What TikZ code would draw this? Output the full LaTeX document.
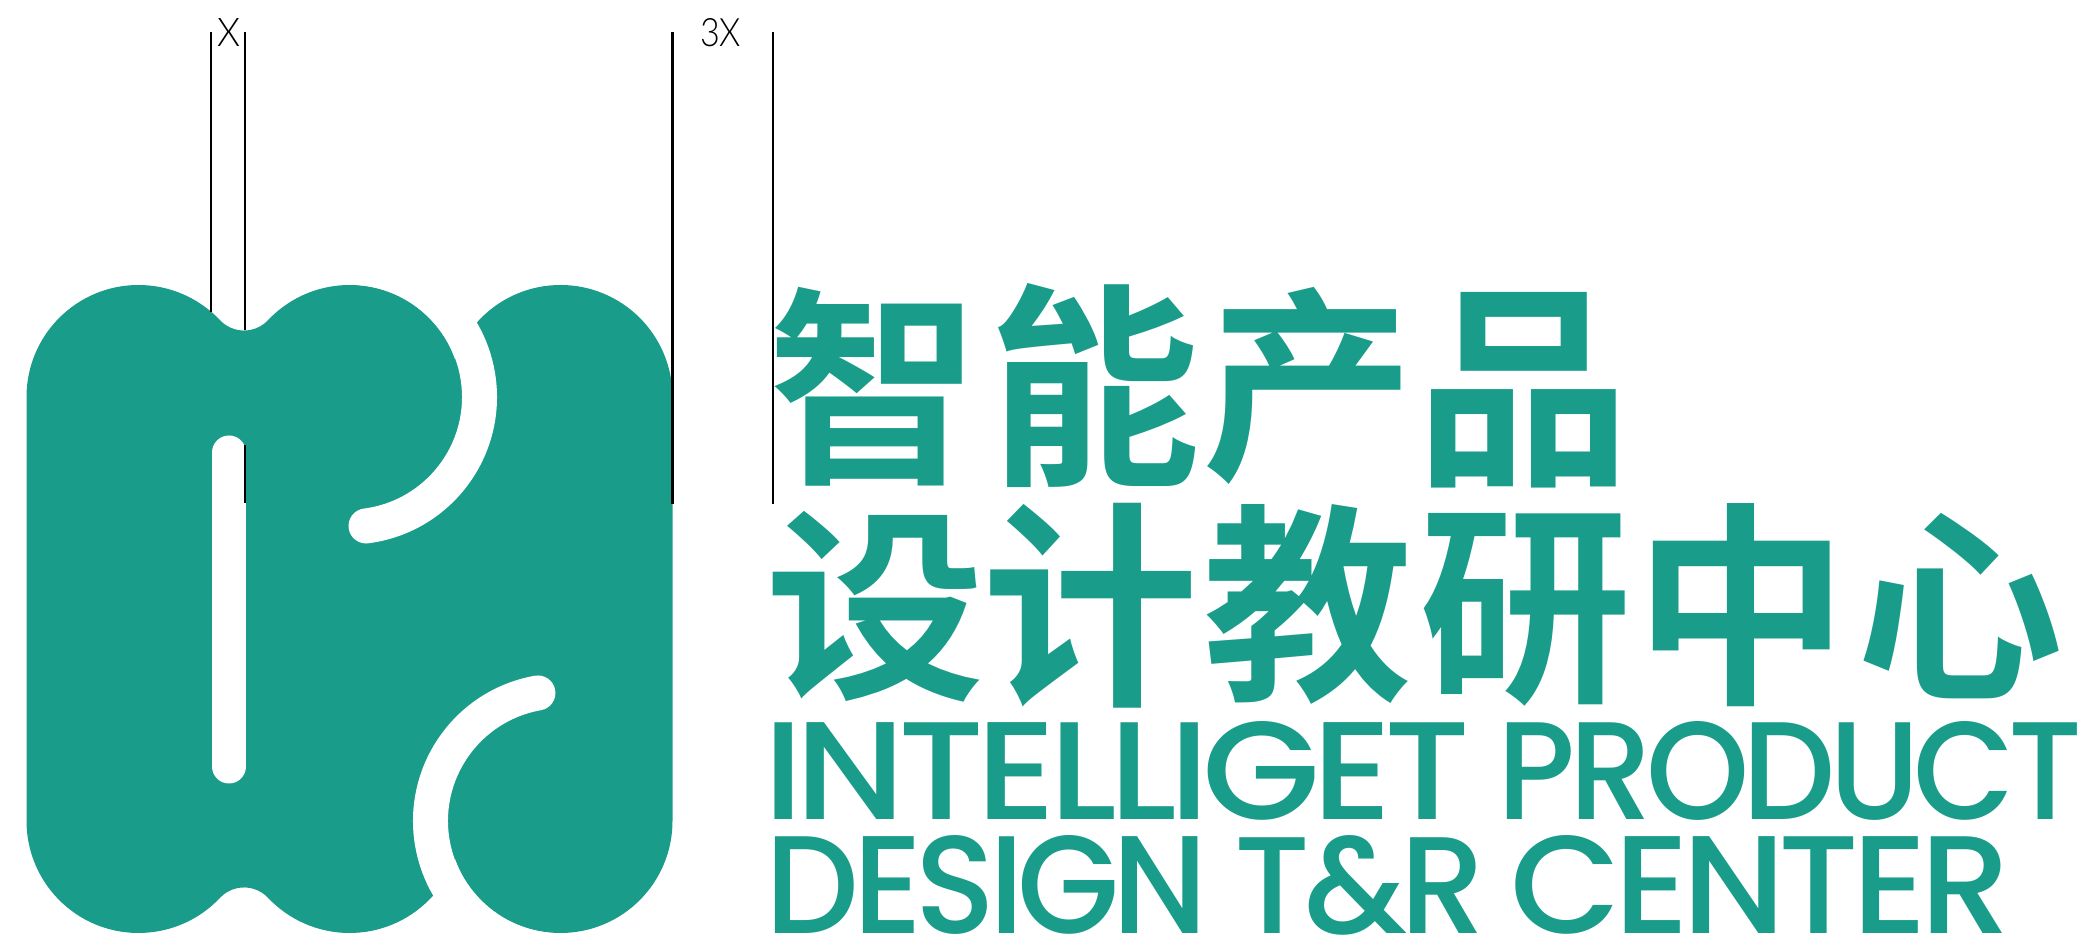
\documentclass[tikz,border=0pt]{standalone}
\usepackage{fontspec}
\usepackage{graphicx}
\newfontfamily\cjkbold{Noto Sans CJK SC Bold}
\newfontfamily\latinmed[LetterSpace=-5]{Poppins Medium}
\newfontfamily\thinfont{Lato Light}
\definecolor{teal1}{HTML}{1A9C8B}
\tikzset{
  glyph/.style={inner sep=0pt,outer sep=0pt,text=teal1},
  gapline/.style={draw=white,line width=35pt,line cap=round},
  guide/.style={draw=black,line width=2.3pt},
  dimtext/.style={inner sep=0pt,text=black}
}
\newcommand{\zhch}[6]{\node[glyph] (#1) at (#2,{942-#3}) {\resizebox{#4pt}{#5pt}{\cjkbold #6}};}
\newcommand{\enword}[6]{\node[glyph] (#1) at (#2,{942-#3}) {\resizebox{#4pt}{#5pt}{\latinmed #6}};}
\begin{document}
\begin{tikzpicture}[x=1pt,y=1pt]
\useasboundingbox (0,0) rectangle (2090,942);
% guide ends
\coordinate (g1t) at (210.8,910); \coordinate (g1b) at (210.8,630);
\coordinate (g2t) at (244.8,910); \coordinate (g2b) at (244.8,612);
\coordinate (g3t) at (244.8,497); \coordinate (g3b) at (244.8,438.5);
\coordinate (g4t) at (672.5,910); \coordinate (g4b) at (672.5,438);
\coordinate (g5t) at (773,910); \coordinate (g5b) at (773,438);
% body
\fill[teal1] (26.5,545) arc[start angle=180,end angle=43.3,radius=112]
  arc[start angle=223.3,end angle=316.7,radius=33]
  arc[start angle=136.7,end angle=0,radius=112]
  -- ++(0,-424) arc[start angle=0,end angle=-136.7,radius=112]
  arc[start angle=43.3,end angle=136.7,radius=33]
  arc[start angle=-43.3,end angle=-180,radius=112] -- cycle;
\fill[teal1] (448.5,545) arc[start angle=180,end angle=0,radius=112]
  -- ++(0,-424) arc[start angle=0,end angle=-180,radius=112] -- cycle;
% gaps
\draw[gapline] (349.5,545) ++(-82.7:130) arc[start angle=-82.7,end angle=85,radius=130];
\draw[gapline] (560.5,121) ++(100:130) arc[start angle=100,end angle=270,radius=130];
\draw[gapline,line width=34pt] (229,489.5) -- (229,175.5);
% guides
\draw[guide] (g1t) -- (g1b);
\draw[guide] (g2t) -- (g2b);
\draw[guide] (g3t) -- (g3b);
\draw[guide] (g4t) -- (g4b);
\draw[guide] (g5t) -- (g5b);
\node[dimtext] (lx) at (228.5,909.5) {\resizebox{23pt}{28pt}{\thinfont X}};
\node[dimtext] (l3x) at (720.5,909.5) {\resizebox{41pt}{28pt}{\thinfont 3X}};
% Chinese
\zhch{c1}{873.5}{386.5}{211}{180}{智}
\zhch{c2}{1094}{386}{212}{185}{能}
\zhch{c3}{1308}{385.5}{212}{176}{产}
\zhch{c4}{1523.5}{390.5}{214}{176}{品}
\zhch{c5}{875.5}{607}{220}{172}{设}
\zhch{c6}{1090}{605.5}{216}{185}{计}
\zhch{c7}{1307.5}{604.5}{209}{180}{教}
\zhch{c8}{1525}{610}{212}{172}{研}
\zhch{c9}{1741.5}{605}{214}{184}{中}
\zhch{c10}{1960}{606.5}{207}{171}{心}
% Latin
\enword{e1}{1117}{771}{707}{98}{INTELLIGET}
\enword{e2}{1790}{771}{584}{98}{PRODUCT}
\enword{e3}{987}{885}{442}{98}{DESIGN}
\enword{e4}{1360}{885}{250}{98}{T\&R}
\enword{e5}{1761}{885}{500}{98}{CENTER}
\end{tikzpicture}
\end{document}
